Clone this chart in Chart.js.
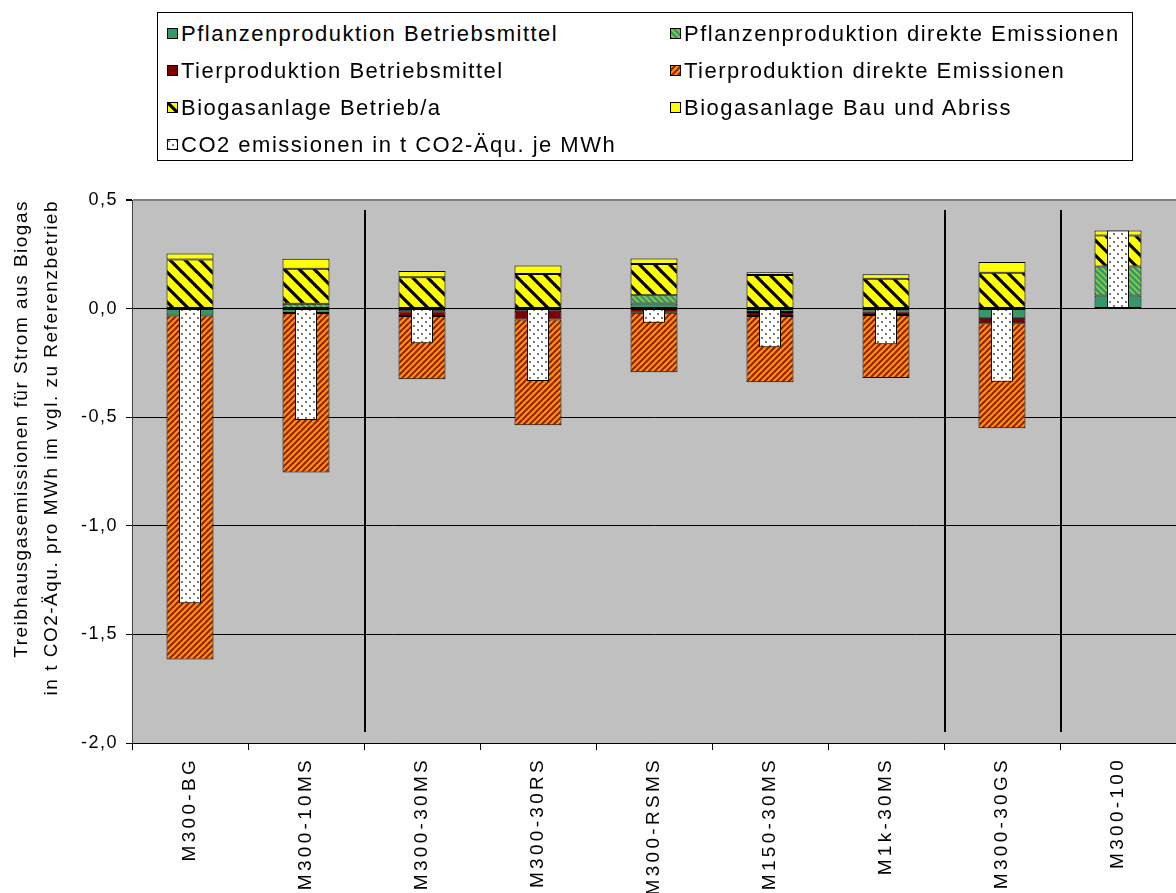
<!DOCTYPE html>
<html lang="de">
<head>
<meta charset="utf-8">
<title>Treibhausgasemissionen Strom aus Biogas</title>
<script src="https://cdn.jsdelivr.net/npm/chart.js@4.4.1/dist/chart.umd.min.js"></script>
<style>
  html, body { margin: 0; padding: 0; background: #fff; overflow: hidden; }
  #wrap { position: absolute; left: 0; top: 0; width: 1178px; height: 893px; }
  #legend {
    position: absolute; left: 157px; top: 12px; width: 976px; height: 149px;
    box-sizing: border-box; border: 1px solid #000; background: #fff;
    padding: 2px 0 0 9px;
    display: grid; grid-template-columns: 503px auto; grid-auto-rows: 37px;
    font: 22px 'Liberation Sans', Arial, sans-serif; letter-spacing: 1.5px; color: #000;
  }
  .item { display: flex; align-items: center; white-space: nowrap; }
  .item canvas { margin-right: 3px; flex: none; }
</style>
</head>
<body>
<div id="wrap"><canvas id="chart"></canvas></div>
<div id="legend"></div>
<script>
// categories (scenarios)
const categories = ["M300-BG", "M300-10MS", "M300-30MS", "M300-30RS", "M300-RSMS",
                    "M150-30MS", "M1k-30MS", "M300-30GS", "M300-100"];

// t CO2-Äqu. pro MWh
const pflanzenBetriebsmittel = [-0.032, -0.020, -0.012, -0.010, 0.024, -0.016, -0.013, -0.042, 0.060];
const pflanzenDirekt         = [0, 0.022, 0, 0, 0.038, 0, 0, 0, 0.134];
const tierBetriebsmittel     = [0, 0, -0.022, -0.040, -0.019, -0.018, -0.017, -0.026, 0];
const tierDirekt             = [-1.584, -0.735, -0.291, -0.487, -0.274, -0.305, -0.290, -0.483, 0];
const biogasBetrieb          = [0.226, 0.162, 0.144, 0.159, 0.143, 0.155, 0.138, 0.165, 0.143];
const biogasBau              = [0.028, 0.046, 0.029, 0.040, 0.026, 0.012, 0.020, 0.049, 0.023];
const co2Netto               = [-1.357, -0.513, -0.160, -0.333, -0.065, -0.178, -0.164, -0.337, 0.360];

// y axis range and tick step
const yMin = -2.0, yMax = 0.5, yStep = 0.5;

// vertical separators after these category indexes
const groupBreaks = [1, 6, 7];

const yTitle = ["Treibhausgasemissionen für Strom aus Biogas",
                "in t CO2-Äqu. pro MWh im vgl. zu Referenzbetrieb"];

// --- fill patterns (Excel style hatches) ---
function makePattern(size, bg, draw) {
  const c = document.createElement("canvas");
  c.width = size; c.height = size;
  const g = c.getContext("2d");
  g.fillStyle = bg;
  g.fillRect(0, 0, size, size);
  if (draw) draw(g, size);
  return g.createPattern(c, "repeat");
}

function stripes(g, s, color, width, dir) {
  g.strokeStyle = color;
  g.lineWidth = width;
  for (let k = -1; k <= 1; k++) {
    g.beginPath();
    if (dir === "down") { g.moveTo(k * s - 1, -1); g.lineTo(k * s + s + 1, s + 1); }
    else { g.moveTo(k * s - 1, s + 1); g.lineTo(k * s + s + 1, -1); }
    g.stroke();
  }
}

const fills = {
  pflanzenBM: "#339966",
  pflanzenDirekt: makePattern(6, "#339966", (g, s) => stripes(g, s, "#99cc33", 1.6, "down")),
  tierBM: "#800000",
  tierDirekt: makePattern(6, "#ff9900", (g, s) => stripes(g, s, "#992200", 2.2, "up")),
  biogasBetrieb: makePattern(15, "#ffff00", (g, s) => stripes(g, s, "#000", 3.2, "down")),
  biogasBau: "#ffff00",
  co2: makePattern(8, "#ffffff", g => {
    g.fillStyle = "#7a7a7a";
    g.fillRect(1, 1, 2, 2);
    g.fillRect(5, 5, 2, 2);
  })
};

Chart.defaults.font.family = "'Liberation Sans', Arial, sans-serif";
Chart.defaults.color = "#000";

// grey plot area, group separator lines, Excel-like wide text spacing
const excelLook = {
  id: "excelLook",
  beforeDraw(chart) {
    const { ctx, chartArea: a } = chart;
    ctx.save();
    ctx.fillStyle = "#c0c0c0";
    ctx.fillRect(a.left, a.top, a.right - a.left, a.bottom - a.top);
    ctx.restore();
    ctx.letterSpacing = "1.5px";
  },
  afterDatasetsDraw(chart) {
    const { ctx, chartArea: a } = chart;
    const x = chart.scales.x;
    ctx.save();
    ctx.strokeStyle = "#000";
    ctx.lineWidth = 2;
    groupBreaks.forEach(i => {
      const px = Math.round((x.getPixelForValue(i) + x.getPixelForValue(i + 1)) / 2) + 1;
      ctx.beginPath();
      ctx.moveTo(px, a.top + 10);
      ctx.lineTo(px, a.bottom - 11);
      ctx.stroke();
    });
    ctx.restore();
    ctx.letterSpacing = "3.3px";
  },
  afterDraw(chart) {
    chart.ctx.letterSpacing = "0px";
  }
};

const chart = new Chart(document.getElementById("chart"), {
  type: "bar",
  data: {
    labels: categories,
    datasets: [
      { label: "Pflanzenproduktion Betriebsmittel", data: pflanzenBetriebsmittel, backgroundColor: fills.pflanzenBM, stack: "main" },
      { label: "Pflanzenproduktion direkte Emissionen", data: pflanzenDirekt, backgroundColor: fills.pflanzenDirekt, stack: "main" },
      { label: "Tierproduktion Betriebsmittel", data: tierBetriebsmittel, backgroundColor: fills.tierBM, stack: "main" },
      { label: "Tierproduktion direkte Emissionen", data: tierDirekt, backgroundColor: fills.tierDirekt, stack: "main" },
      { label: "Biogasanlage Betrieb/a", data: biogasBetrieb, backgroundColor: fills.biogasBetrieb, stack: "main" },
      { label: "Biogasanlage Bau und Abriss", data: biogasBau, backgroundColor: fills.biogasBau, stack: "main" },
      {
        label: "CO2 emissionen in t CO2-Äqu. je MWh", data: co2Netto, backgroundColor: fills.co2,
        stack: "co2", grouped: false, order: -1, categoryPercentage: 1, barPercentage: 0.19
      }
    ]
  },
  options: {
    animation: false,
    responsive: true,
    maintainAspectRatio: false,
    layout: { padding: { top: 200, left: 0, right: 2, bottom: 0 } },
    datasets: {
      bar: { borderColor: "#000", borderWidth: 1, borderSkipped: false, categoryPercentage: 1, barPercentage: 0.405 }
    },
    plugins: { legend: { display: false }, tooltip: { enabled: false } },
    scales: {
      x: {
        stacked: true,
        grid: { offset: true, drawOnChartArea: false, drawTicks: true, tickLength: 7, color: "#000" },
        border: { color: "#000", width: 1 },
        ticks: { autoSkip: false, minRotation: 90, maxRotation: 90, padding: 7, font: { size: 19 }, z: 1 },
        afterFit: s => { s.height = 150; }
      },
      y: {
        stacked: true,
        min: yMin,
        max: yMax,
        ticks: {
          stepSize: yStep, padding: 8, font: { size: 18 },
          callback: v => v.toFixed(1).replace(".", ",")
        },
        grid: {
          color: c => (c.tick && c.tick.value === yMax ? "#808080" : "#000"),
          lineWidth: c => (c.tick && c.tick.value === yMax ? 2 : 1),
          tickColor: "#000",
          tickLength: 6
        },
        border: { color: "#404040", width: 1 },
        title: {
          display: true, text: yTitle, align: "end",
          font: { size: 19, lineHeight: 1.58 }, padding: { top: 7, bottom: 0 }
        },
        afterFit: s => { s.width = 132; }
      }
    }
  },
  plugins: [excelLook]
});

// HTML legend in two columns, built from the datasets
const legendBox = document.getElementById("legend");
chart.data.datasets.forEach(ds => {
  const item = document.createElement("div");
  item.className = "item";
  const sw = document.createElement("canvas");
  sw.width = 11; sw.height = 11;
  const g = sw.getContext("2d");
  g.fillStyle = ds.backgroundColor;
  g.fillRect(0, 0, 11, 11);
  g.strokeStyle = "#000";
  g.lineWidth = 1;
  g.strokeRect(0.5, 0.5, 10, 10);
  item.appendChild(sw);
  item.appendChild(document.createTextNode(ds.label));
  legendBox.appendChild(item);
});
</script>
</body>
</html>
